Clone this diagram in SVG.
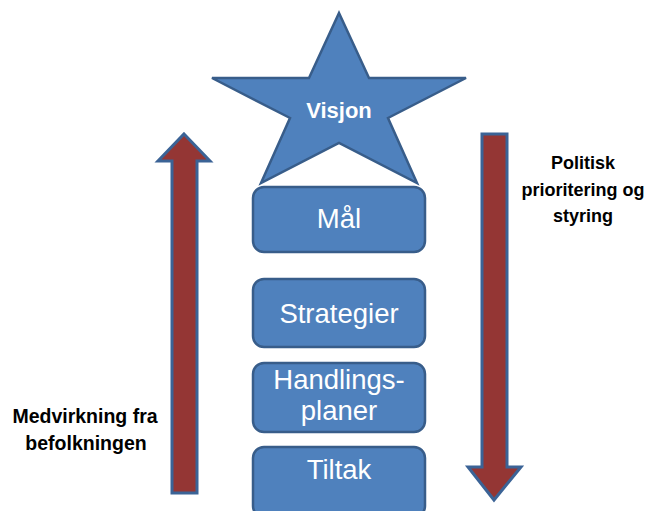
<svg xmlns="http://www.w3.org/2000/svg" width="654" height="511" viewBox="0 0 654 511">
<style>
.box{fill:#4F81BD;stroke:#385D8A;stroke-width:2.5}
.arrow{fill:#943634;stroke:#3B6396;stroke-width:3;stroke-linejoin:miter}
.bt{font-family:"Liberation Sans",Arial,sans-serif;font-size:27.5px;fill:#FFFFFF;text-anchor:middle}
.lbl{font-family:"Liberation Sans",Arial,sans-serif;font-weight:bold;fill:#000000;text-anchor:middle}
</style>
<rect width="654" height="511" fill="#FFFFFF"/>
<g id="connectors">
<polygon class="arrow" points="184,134 210,161 197,161 197,493 172,493 172,161 158,161"/>
<polygon class="arrow" points="482,134 507,134 507,467 521,467 494,500 468,467 482,467"/>
</g>
<g id="visjon">
<polygon fill="#4F81BD" stroke="#385D8A" stroke-width="2.5" stroke-linejoin="miter" points="339,13 369,78 466,78 388,118 417,183 339,143 261,183 290,118 212,78 309,78"/>
<text x="339" y="118" font-family="Liberation Sans,Arial,sans-serif" font-weight="bold" font-size="22" fill="#FFFFFF" text-anchor="middle">Visjon</text>
</g>
<g id="maal">
<rect class="box" x="253" y="187" width="172" height="65" rx="11"/>
<text class="bt" x="339" y="228">Mål</text>
</g>
<g id="strategier">
<rect class="box" x="253" y="279" width="172" height="68" rx="11"/>
<text class="bt" x="339" y="323">Strategier</text>
</g>
<g id="handlingsplaner">
<rect class="box" x="253" y="363" width="172" height="69" rx="11"/>
<text class="bt" x="339" y="389">Handlings-</text>
<text class="bt" x="339" y="420">planer</text>
</g>
<g id="tiltak">
<rect class="box" x="253" y="447" width="172" height="70" rx="11"/>
<text class="bt" x="339" y="479">Tiltak</text>
</g>
<g id="politisk">
<text class="lbl" x="583" y="169" font-size="18">Politisk</text>
<text class="lbl" x="583" y="196" font-size="18">prioritering og</text>
<text class="lbl" x="583" y="222" font-size="18">styring</text>
</g>
<g id="medvirkning">
<text class="lbl" x="85" y="423" font-size="19.5">Medvirkning fra</text>
<text class="lbl" x="86" y="450" font-size="19.5">befolkningen</text>
</g>
</svg>
